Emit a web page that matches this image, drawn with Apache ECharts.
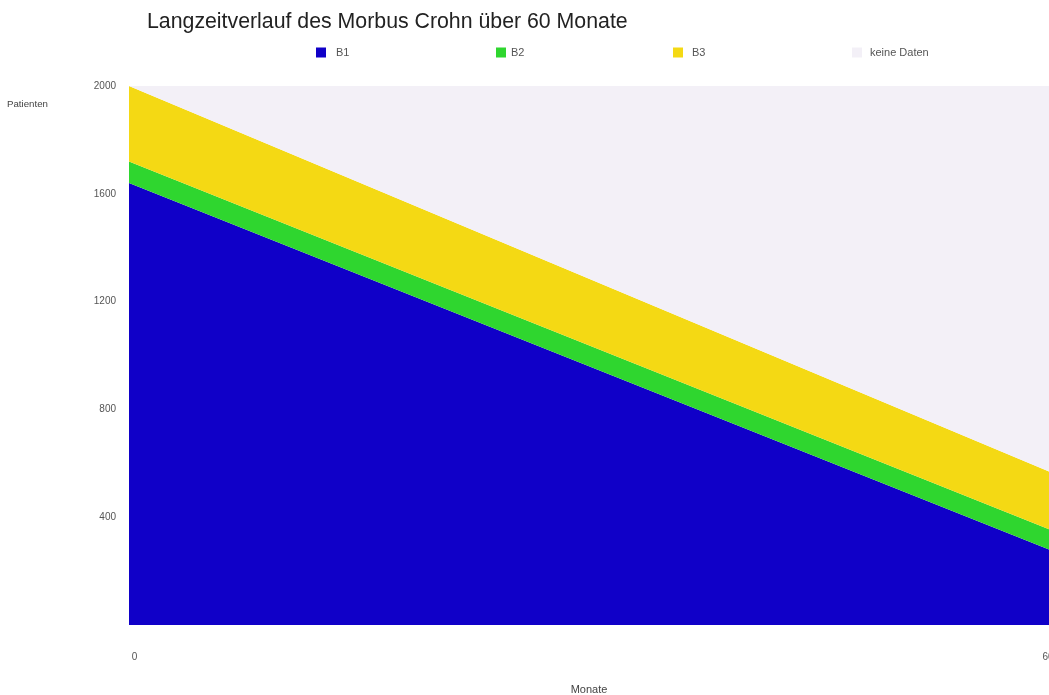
<!DOCTYPE html>
<html>
<head>
<meta charset="utf-8">
<script src="https://cdn.jsdelivr.net/npm/echarts@6/dist/echarts.min.js"></script>
<style>
html,body{margin:0;padding:0;background:#fff;overflow:hidden;width:1049px;height:695px;}
#c{width:1049px;height:695px;}
</style>
</head>
<body>
<div id="c"></div>
<script>
var months = ['0', '60'];
var b1 = [1640, 280];
var b2 = [80, 75];
var b3 = [280, 215];
var keineDaten = [0, 1430];
var yTicks = [400, 800, 1200, 1600, 2000];
var seriesNames = ['B1', 'B2', 'B3', 'keine Daten'];
var seriesColors = ['#1000c8', '#2fd62f', '#f4d914', '#f3f0f7'];
var seriesValues = [b1, b2, b3, keineDaten];

var FONT = 'Liberation Sans, Arial, sans-serif';
var legendLefts = [311, 491, 668, 847];
var legendTextPad = [5, 0, 4, 3];
var legends = seriesNames.map(function (n, i) {
  return {
    data: [n],
    left: legendLefts[i],
    top: 42,
    itemWidth: 10,
    itemHeight: 10,
    icon: 'rect',
    itemGap: 0,
    textStyle: { fontSize: 11, color: '#555', fontFamily: FONT, padding: [0, 0, 0, legendTextPad[i]] }
  };
});

var chart = echarts.init(document.getElementById('c'), null, { renderer: 'canvas', width: 1049, height: 695 });
chart.setOption({
  animation: false,
  backgroundColor: '#ffffff',
  title: {
    text: 'Langzeitverlauf des Morbus Crohn über 60 Monate',
    left: 142,
    top: 7,
    textStyle: { fontSize: 21.3, fontWeight: 'normal', color: '#222', fontFamily: FONT }
  },
  legend: legends,
  grid: { left: 129, top: 86, width: 920, height: 539, containLabel: false, outerBoundsMode: 'none' },
  xAxis: {
    type: 'category',
    data: months,
    boundaryGap: false,
    name: 'Monate',
    nameLocation: 'middle',
    nameGap: 59,
    nameTextStyle: { fontSize: 11, color: '#444', fontFamily: FONT },
    axisLine: { show: false },
    axisTick: { show: false },
    splitLine: { show: false },
    axisLabel: {
      fontSize: 10, color: '#555', margin: 27, fontFamily: FONT,
      formatter: function (v) { return v === months[0] ? '{a|' + v + '}' : '{b|' + v + '}'; },
      rich: {
        a: { fontSize: 10, color: '#555', fontFamily: FONT, padding: [0, 0, 0, 11] },
        b: { fontSize: 10, color: '#555', fontFamily: FONT, padding: [0, 2, 0, 0] }
      }
    }
  },
  yAxis: {
    type: 'value',
    min: 0,
    max: 2000,
    interval: 400,
    axisLine: { show: false },
    axisTick: { show: false },
    splitLine: { show: false },
    axisLabel: {
      fontSize: 10, color: '#555', margin: 13, fontFamily: FONT,
      formatter: function (v) { return yTicks.indexOf(v) >= 0 ? String(v) : ''; }
    }
  },
  graphic: [{
    type: 'text',
    left: 7,
    top: 99,
    style: { text: 'Patienten', fontSize: 9.7, fill: '#444', fontFamily: FONT }
  }],
  series: seriesNames.map(function (n, i) {
    return {
      name: n,
      type: 'line',
      stack: 'total',
      data: seriesValues[i],
      showSymbol: false,
      symbol: 'none',
      color: seriesColors[i],
      lineStyle: { width: 0 },
      areaStyle: { color: seriesColors[i], opacity: 1 }
    };
  })
});
</script>
</body>
</html>
